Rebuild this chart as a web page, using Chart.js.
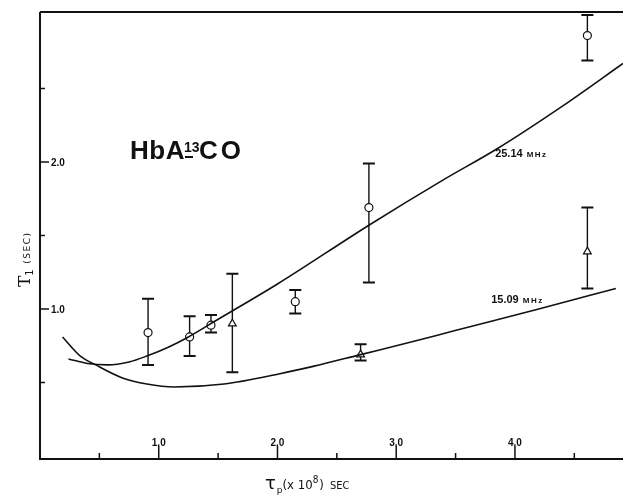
<!DOCTYPE html>
<html><head><meta charset="utf-8">
<script src="https://cdn.jsdelivr.net/npm/chart.js@4"></script>
<style>html,body{margin:0;padding:0;background:#fff}#c{display:block}</style>
</head><body><canvas id="c" width="623" height="498"></canvas>
<script>
// ---- data ----
const curve25X = [0.24, 0.40, 0.57, 0.75, 0.90, 1.08, 1.25, 1.49, 2.00, 2.77, 3.40, 3.85, 4.40, 4.91];
const curve25Y = [0.66, 0.63, 0.62, 0.64, 0.68, 0.74, 0.81, 0.925, 1.17, 1.57, 1.88, 2.09, 2.38, 2.67];
const curve15X = [0.19, 0.34, 0.47, 0.70, 0.90, 1.13, 1.55, 2.02, 2.30, 2.70, 3.10, 3.48, 4.20, 4.85];
const curve15Y = [0.81, 0.68, 0.62, 0.53, 0.49, 0.47, 0.49, 0.56, 0.61, 0.69, 0.77, 0.85, 1.00, 1.14];

const obs25X  = [0.91, 1.26, 1.44, 2.15, 2.77, 4.61];
const obs25Y  = [0.84, 0.81, 0.89, 1.05, 1.69, 2.86];
const obs25Lo = [0.62, 0.68, 0.84, 0.97, 1.18, 2.69];
const obs25Hi = [1.07, 0.95, 0.96, 1.13, 1.99, 3.00];

const obs15X  = [1.62, 2.70, 4.61];
const obs15Y  = [0.90, 0.69, 1.39];
const obs15Lo = [0.57, 0.65, 1.14];
const obs15Hi = [1.24, 0.76, 1.69];

const xMajorTicks = [1, 2, 3, 4];
const xTickLabels = ['1.0', '2.0', '3.0', '4.0'];
const xMinorTicks = [0.5, 1.5, 2.5, 3.5, 4.5];
const yMajorTicks = [1, 2];
const yTickLabels = ['1.0', '2.0'];
const yMinorTicks = [0.5, 1.5, 2.5];

const seriesLabels = ['25.14 MHz', '15.09 MHz'];
const labelAnchors = [[3.85, 2.07], [3.48, 0.86]];

const toPts = (xs, ys) => xs.map((x, i) => ({x, y: ys[i]}));
const INK = '#111';

const errBars = {
  id: 'errBars',
  beforeDatasetsDraw(chart) {
    const {ctx, scales: {x, y}} = chart;
    ctx.save();
    ctx.strokeStyle = INK;
    [[obs25X, obs25Lo, obs25Hi], [obs15X, obs15Lo, obs15Hi]].forEach(([xs, lo, hi]) => {
      xs.forEach((v, i) => {
        const px = x.getPixelForValue(v);
        const p1 = y.getPixelForValue(lo[i]);
        const p2 = y.getPixelForValue(hi[i]);
        ctx.lineWidth = 1.4;
        ctx.beginPath(); ctx.moveTo(px, p1); ctx.lineTo(px, p2); ctx.stroke();
        ctx.lineWidth = 2;
        ctx.beginPath();
        ctx.moveTo(px - 6, p1); ctx.lineTo(px + 6, p1);
        ctx.moveTo(px - 6, p2); ctx.lineTo(px + 6, p2);
        ctx.stroke();
      });
    });
    ctx.restore();
  }
};

const frame = {
  id: 'frame',
  afterDraw(chart) {
    const {ctx, chartArea: a, scales: {x, y}} = chart;
    ctx.save();
    ctx.strokeStyle = INK;
    ctx.fillStyle = INK;
    // axes lines
    ctx.lineWidth = 2;
    ctx.beginPath();
    ctx.moveTo(a.left, a.top); ctx.lineTo(a.left, a.bottom); ctx.lineTo(a.right, a.bottom);
    ctx.moveTo(a.left, a.top); ctx.lineTo(a.right, a.top);
    ctx.stroke();
    // ticks (inward)
    ctx.lineWidth = 1.5;
    ctx.beginPath();
    xMinorTicks.forEach(v => { const p = x.getPixelForValue(v); ctx.moveTo(p, a.bottom); ctx.lineTo(p, a.bottom - 6); });
    xMajorTicks.forEach(v => { const p = x.getPixelForValue(v); ctx.moveTo(p, a.bottom); ctx.lineTo(p, a.bottom - 13); });
    yMinorTicks.forEach(v => { const p = y.getPixelForValue(v); ctx.moveTo(a.left, p); ctx.lineTo(a.left + 5, p); });
    yMajorTicks.forEach(v => { const p = y.getPixelForValue(v); ctx.moveTo(a.left, p); ctx.lineTo(a.left + 9, p); });
    ctx.stroke();
    // tick labels
    ctx.font = 'bold 10px "Liberation Sans", sans-serif';
    ctx.textBaseline = 'middle';
    ctx.textAlign = 'center';
    xMajorTicks.forEach((v, i) => ctx.fillText(xTickLabels[i], x.getPixelForValue(v), a.bottom - 16));
    ctx.textAlign = 'left';
    yMajorTicks.forEach((v, i) => ctx.fillText(yTickLabels[i], a.left + 11, y.getPixelForValue(v) + 1));

    // series labels
    seriesLabels.forEach((lab, i) => {
      const [num, unit] = lab.split(' ');
      const px = x.getPixelForValue(labelAnchors[i][0]) - 2 + (i === 1 ? 40 : 0);
      const py = y.getPixelForValue(labelAnchors[i][1]) + (i === 0 ? 5 : -27);
      ctx.textAlign = 'left';
      ctx.textBaseline = 'alphabetic';
      ctx.font = 'bold 11px "Liberation Sans", sans-serif';
      ctx.fillText(num, px, py);
      const w = ctx.measureText(num).width;
      ctx.font = 'bold 8px "Liberation Sans", sans-serif';
      ctx.letterSpacing = '1.5px';
      ctx.fillText(unit, px + w + 4, py);
      ctx.letterSpacing = '0px';
    });

    // title HbA-13CO
    ctx.textBaseline = 'alphabetic';
    ctx.textAlign = 'left';
    ctx.font = 'bold 26px "Liberation Sans", sans-serif';
    ctx.letterSpacing = '0.5px';
    ctx.fillText('HbA', 130, 159);
    ctx.letterSpacing = '0px';
    ctx.font = 'bold 14px "Liberation Sans", sans-serif';
    ctx.fillText('13', 184, 152);
    ctx.fillRect(185, 156, 8, 2);
    ctx.font = 'bold 26px "Liberation Sans", sans-serif';
    ctx.letterSpacing = '3px';
    ctx.fillText('CO', 199, 159);
    ctx.letterSpacing = '0px';

    // y axis title  T1 (SEC)
    ctx.save();
    ctx.translate(30, 287);
    ctx.rotate(-Math.PI / 2);
    ctx.font = '17px "DejaVu Serif", serif';
    ctx.fillText('T', 0, 0);
    let tw = ctx.measureText('T').width;
    ctx.font = '10px "DejaVu Sans", sans-serif';
    ctx.fillText('1', tw, 3);
    ctx.font = '9px "DejaVu Sans", sans-serif';
    ctx.letterSpacing = '1.5px';
    ctx.fillText('(SEC)', tw + 12, 0);
    ctx.letterSpacing = '0px';
    ctx.restore();

    // x axis title  τp(x 10^8) SEC
    let cx = 265; const by = 489;
    ctx.font = '18px "DejaVu Sans", sans-serif';
    ctx.fillText('\u03C4', cx, by); cx += ctx.measureText('\u03C4').width + 1;
    ctx.font = '9px "DejaVu Sans", sans-serif';
    ctx.fillText('p', cx, by + 4); cx += ctx.measureText('p').width;
    ctx.font = '13px "DejaVu Sans Condensed", "DejaVu Sans", sans-serif';
    ctx.fillText('(x 10', cx, by); cx += ctx.measureText('(x 10').width;
    ctx.font = '10px "DejaVu Sans Condensed", "DejaVu Sans", sans-serif';
    ctx.fillText('8', cx, by - 6); cx += ctx.measureText('8').width + 1;
    ctx.font = '13px "DejaVu Sans Condensed", "DejaVu Sans", sans-serif';
    ctx.fillText(')', cx, by); cx += ctx.measureText(')').width + 6;
    ctx.font = '11px "DejaVu Sans Condensed", "DejaVu Sans", sans-serif';
    ctx.fillText('SEC', cx, by);
    ctx.restore();
  }
};

new Chart(document.getElementById('c'), {
  type: 'scatter',
  data: {
    datasets: [
      {label: seriesLabels[0], data: toPts(curve25X, curve25Y), showLine: true, pointRadius: 0, borderColor: INK, borderWidth: 1.6, cubicInterpolationMode: 'monotone', fill: false},
      {label: seriesLabels[1], data: toPts(curve15X, curve15Y), showLine: true, pointRadius: 0, borderColor: INK, borderWidth: 1.6, cubicInterpolationMode: 'monotone', fill: false},
      {label: 'obs25', data: toPts(obs25X, obs25Y), pointStyle: 'circle', pointRadius: 4, backgroundColor: '#fff', borderColor: INK, borderWidth: 1.2},
      {label: 'obs15', data: toPts(obs15X, obs15Y), pointStyle: 'triangle', pointRadius: 4.5, backgroundColor: '#fff', borderColor: INK, borderWidth: 1.2}
    ]
  },
  options: {
    responsive: false,
    animation: false,
    layout: {autoPadding: false, padding: {left: 40, top: 12, right: 0, bottom: 39}},
    plugins: {legend: {display: false}, tooltip: {enabled: false}},
    scales: {
      x: {type: 'linear', min: 0, max: 4.91, display: false},
      y: {type: 'linear', min: -0.02, max: 3.02, display: false}
    }
  },
  plugins: [errBars, frame]
});
</script>
</body></html>
